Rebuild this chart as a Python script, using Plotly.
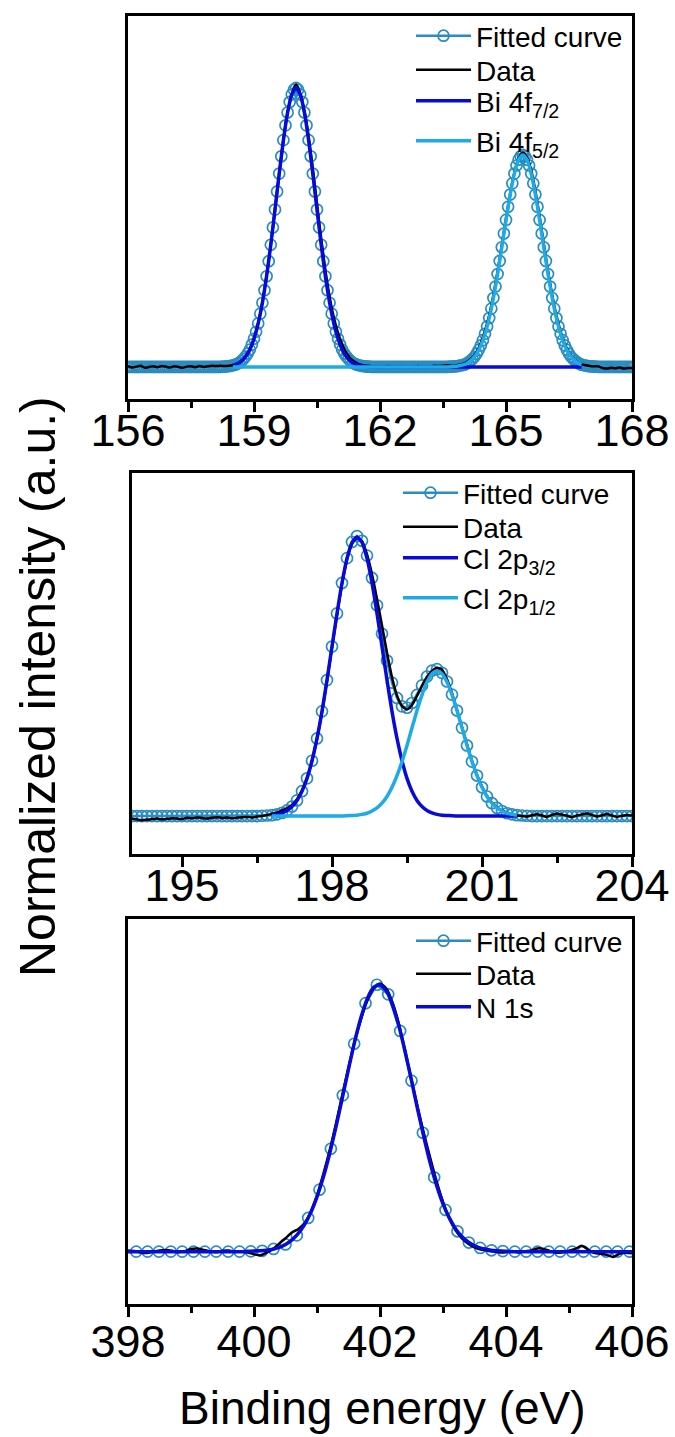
import numpy as np
import plotly.graph_objects as go

# ---------------- Panel 1 : Bi 4f ----------------
bi_fit_x = np.round(np.linspace(156.0, 168.0, 241), 2)
bi_fit = [
    0, 0, 0, 0, 0, 0, 0, 0, 0, 0, 0, 0, 0, 0, 0, 0, 0, 0, 0, 0, 0, 0, 0, 0, 0,
    0, 0, 0, 0, 0, 0, 0, 0, 0, 0, 0, 0, 0, 0, 0, 0, 0, 0, 0, 0,
    0.001, 0.001, 0.002, 0.003, 0.004, 0.006, 0.008, 0.011, 0.015, 0.021, 0.028, 0.037,
    0.048, 0.062, 0.080, 0.101, 0.126, 0.156, 0.191, 0.230, 0.275, 0.325, 0.379, 0.438,
    0.500, 0.564, 0.629, 0.693, 0.755, 0.813, 0.866, 0.912, 0.950, 0.977, 0.994, 1.000,
    0.994, 0.977, 0.950, 0.912, 0.866, 0.813, 0.755, 0.693, 0.629, 0.564, 0.500, 0.438,
    0.379, 0.325, 0.275, 0.230, 0.191, 0.156, 0.126, 0.101, 0.080, 0.062, 0.048, 0.037,
    0.028, 0.021, 0.015, 0.011, 0.008, 0.006, 0.004, 0.003, 0.002, 0.001, 0.001,
    0, 0, 0, 0, 0, 0, 0, 0, 0, 0, 0, 0, 0, 0, 0, 0, 0, 0, 0, 0, 0, 0, 0, 0, 0,
    0, 0, 0, 0, 0, 0, 0, 0, 0, 0, 0, 0,
    0.001, 0.001, 0.002, 0.002, 0.003, 0.005, 0.006, 0.008, 0.011, 0.016, 0.021, 0.028,
    0.036, 0.047, 0.061, 0.077, 0.096, 0.119, 0.145, 0.175, 0.209, 0.247, 0.288, 0.333,
    0.380, 0.429, 0.478, 0.527, 0.574, 0.618, 0.658, 0.693, 0.722, 0.743, 0.755, 0.760,
    0.755, 0.743, 0.722, 0.693, 0.658, 0.618, 0.574, 0.527, 0.478, 0.429, 0.380, 0.333,
    0.288, 0.247, 0.209, 0.175, 0.145, 0.119, 0.096, 0.077, 0.061, 0.047, 0.036, 0.028,
    0.021, 0.016, 0.011, 0.008, 0.006, 0.005, 0.003, 0.002, 0.002, 0.001, 0.001,
    0, 0, 0, 0, 0, 0, 0, 0, 0, 0, 0, 0, 0, 0, 0, 0, 0,
]
bi_data_x = np.round(np.linspace(156.0, 168.0, 121), 2)
bi_data = [
    0.003, -0.002, 0.001, 0.004, -0.003, 0.000, 0.002, -0.001, 0.003, 0.001, -0.002, 0.002,
    0.000, -0.003, 0.001, 0.002, -0.001, 0.003, 0.000, 0.002, 0.004, 0.003, 0.004,
    0.003, 0.004, 0.007, 0.012, 0.022, 0.038, 0.063, 0.102, 0.157, 0.232, 0.327, 0.440,
    0.566, 0.694, 0.814, 0.912, 0.977, 1.012,
    0.980, 0.918, 0.826, 0.712, 0.585, 0.460, 0.347, 0.252, 0.178, 0.122, 0.080, 0.050,
    0.030, 0.018, 0.010, 0.006, 0.004,
    0.002, 0.000, -0.002, 0.001, 0.003, 0.000, -0.001, 0.002, 0.001, -0.002, 0.000, 0.003,
    0.001, -0.001, 0.002, 0.004, 0.003, 0.004, 0.006,
    0.004, 0.006, 0.009, 0.013, 0.021, 0.034, 0.054, 0.086, 0.129, 0.186, 0.258, 0.343,
    0.438, 0.533, 0.622, 0.697, 0.748, 0.768,
    0.752, 0.705, 0.631, 0.540, 0.442, 0.345, 0.258, 0.185, 0.127, 0.083, 0.052, 0.031,
    0.018, 0.010, 0.006, 0.003, 0.002,
    0.002, -0.004, -0.006, -0.003, -0.005, -0.002, -0.006, -0.004, -0.005,
]
bi_comp_x = np.round(np.linspace(158.5, 166.8, 84), 2)
bi_72 = [
    0.006, 0.011, 0.021, 0.037, 0.062, 0.101, 0.156, 0.230, 0.325, 0.438, 0.564, 0.693,
    0.813, 0.912, 0.977, 1.000,
    0.977, 0.912, 0.813, 0.693, 0.564, 0.438, 0.325, 0.230, 0.156, 0.101, 0.062, 0.037,
    0.021, 0.011, 0.006, 0.003, 0.001,
    0, 0, 0, 0, 0, 0, 0, 0, 0, 0, 0, 0, 0, 0, 0, 0, 0, 0, 0, 0, 0, 0, 0, 0, 0,
    0, 0, 0, 0, 0, 0, 0, 0, 0, 0, 0, 0, 0, 0, 0, 0, 0, 0, 0, 0, 0, 0, 0, 0, 0, 0,
]
bi_52 = [
    0, 0, 0, 0, 0, 0, 0, 0, 0, 0, 0, 0, 0, 0, 0, 0, 0, 0, 0, 0, 0, 0, 0, 0, 0,
    0, 0, 0, 0, 0, 0, 0, 0, 0, 0, 0, 0, 0, 0, 0, 0, 0, 0, 0, 0, 0, 0, 0, 0, 0, 0, 0,
    0.001, 0.002, 0.005, 0.008, 0.016, 0.028, 0.047, 0.077, 0.119, 0.175, 0.247, 0.333,
    0.429, 0.527, 0.618, 0.693, 0.743, 0.760,
    0.743, 0.693, 0.618, 0.527, 0.429, 0.333, 0.247, 0.175, 0.119, 0.077, 0.047, 0.028,
    0.016, 0.008,
]

# ---------------- Panel 2 : Cl 2p ----------------
cl_x = np.round(np.linspace(194.0, 204.0, 101), 2)
cl_fit = [
    0, 0, 0, 0, 0, 0, 0, 0, 0, 0, 0, 0, 0, 0, 0, 0, 0, 0, 0, 0, 0, 0, 0, 0, 0, 0,
    0.001, 0.002,
    0.003, 0.006, 0.011, 0.020, 0.034, 0.056, 0.089, 0.135, 0.198, 0.278, 0.375, 0.487,
    0.607, 0.726, 0.835,
    0.924, 0.982, 1.003, 0.986, 0.933, 0.853, 0.755, 0.653, 0.557, 0.478, 0.423, 0.393,
    0.388, 0.405, 0.434, 0.468, 0.500, 0.521, 0.526, 0.513, 0.482, 0.435,
    0.378, 0.316, 0.253, 0.195, 0.145, 0.103, 0.070, 0.046, 0.029, 0.018, 0.010, 0.006,
    0.003, 0.002, 0.001,
    0, 0, 0, 0, 0, 0, 0, 0, 0, 0, 0, 0, 0, 0, 0, 0, 0, 0, 0, 0, 0,
]
cl_data = [
    -0.010, -0.012, -0.015, -0.013, -0.011, -0.009, -0.012, -0.010, -0.008, -0.009, -0.011,
    -0.006, -0.008, -0.005, -0.007, -0.009, -0.006, -0.004, -0.007, -0.005, -0.008, -0.006,
    -0.004, -0.003, -0.005, -0.002,
    0.000, 0.004,
    0.008, 0.012, 0.020, 0.028, 0.040, 0.060, 0.092, 0.136, 0.196, 0.276, 0.372, 0.484,
    0.605, 0.722, 0.830,
    0.918, 0.974, 0.996, 0.984, 0.937, 0.866, 0.778, 0.683, 0.585, 0.497, 0.432, 0.394,
    0.382, 0.398, 0.430, 0.466, 0.497, 0.520, 0.531, 0.524, 0.490, 0.440,
    0.380, 0.318, 0.256, 0.198, 0.147, 0.106, 0.072, 0.048, 0.031, 0.020, 0.012, 0.006,
    0.002, 0.000, -0.002,
    0.003, 0.006, 0.002, -0.003, 0.004, 0.008, 0.005, 0.001, -0.004, 0.002, 0.006, 0.009,
    0.004, -0.002, 0.003, 0.007, 0.002, -0.003, 0.001, 0.004, 0.002,
]
cl_comp_x = np.round(np.linspace(196.8, 201.7, 50), 2)
cl_32 = [
    0.003, 0.006, 0.011, 0.020, 0.034, 0.056, 0.089, 0.135, 0.198, 0.278, 0.375, 0.487,
    0.607, 0.726, 0.835, 0.923, 0.980, 1.000,
    0.980, 0.923, 0.835, 0.726, 0.607, 0.487, 0.375, 0.278, 0.198, 0.135, 0.089, 0.056,
    0.034, 0.020, 0.011, 0.006, 0.003, 0.002, 0.001,
    0, 0, 0, 0, 0, 0, 0, 0, 0, 0, 0, 0, 0,
]
cl_12 = [
    0, 0, 0, 0, 0, 0, 0, 0, 0, 0, 0, 0, 0, 0, 0,
    0.001, 0.002, 0.003, 0.006, 0.010, 0.018, 0.029, 0.046, 0.070, 0.103, 0.145, 0.195,
    0.253, 0.316, 0.378, 0.434, 0.480, 0.510, 0.520,
    0.510, 0.480, 0.434, 0.378, 0.316, 0.253, 0.195, 0.145, 0.103, 0.070, 0.046, 0.029,
    0.018, 0.010, 0.006, 0.003,
]

# ---------------- Panel 3 : N 1s ----------------
n_fit_x = [
    398.13, 398.31, 398.49, 398.68, 398.86, 399.04, 399.22, 399.40, 399.59, 399.77,
    399.95, 400.13, 400.31, 400.50, 400.68, 400.86, 401.04, 401.22, 401.41, 401.59,
    401.77, 401.95, 402.13, 402.32, 402.50, 402.68, 402.86, 403.04, 403.23, 403.41,
    403.59, 403.77, 403.95, 404.14, 404.32, 404.50, 404.68, 404.86, 405.05, 405.23,
    405.41, 405.59, 405.77, 405.96,
]
n_fit = [
    0, 0, 0, 0, 0, 0, 0, 0, 0, 0,
    0.001, 0.003, 0.010, 0.027, 0.061, 0.126, 0.232, 0.385, 0.585, 0.778,
    0.930, 0.999, 0.963, 0.826, 0.640, 0.445, 0.278, 0.156, 0.076, 0.034,
    0.014, 0.005, 0.002, 0, 0, 0, 0, 0, 0, 0,
    0, 0, 0, 0,
]
n_x = np.round(np.linspace(398.0, 406.0, 81), 2)
n_data = [
    0.004, 0.002, -0.003, -0.005, 0.000, 0.004, 0.006, 0.003, -0.002, 0.002,
    0.010, 0.012, 0.006, 0.001, -0.002, 0.003, 0.004, -0.001, 0.000, -0.003,
    -0.010, -0.014, -0.004, 0.010, 0.030, 0.050, 0.072, 0.084, 0.106, 0.148,
    0.210, 0.290, 0.378, 0.478, 0.585, 0.690, 0.790, 0.872, 0.940, 0.985,
    1.004, 0.985, 0.932, 0.852, 0.752, 0.644, 0.538, 0.440, 0.348, 0.262,
    0.186, 0.124, 0.080, 0.050, 0.030, 0.016, 0.008, 0.004, 0.000, -0.003,
    -0.002, 0.002, -0.003, 0.001, 0.004, 0.012, 0.010, 0.002, -0.004, -0.002,
    0.003, 0.010, 0.022, 0.008, -0.004, -0.008, -0.012, -0.020, -0.008, -0.004, -0.006,
]
n_1s = [
    0, 0, 0, 0, 0, 0, 0, 0, 0, 0, 0, 0, 0, 0, 0, 0, 0, 0, 0,
    0.001, 0.002,
    0.003, 0.005, 0.009, 0.016, 0.027, 0.043, 0.067, 0.100, 0.145,
    0.205, 0.278, 0.366, 0.466, 0.573, 0.683, 0.788, 0.878, 0.948, 0.989,
    0.999, 0.976, 0.923, 0.844, 0.747, 0.640, 0.530, 0.425, 0.329, 0.247,
    0.179, 0.126, 0.085, 0.056, 0.036, 0.022, 0.013, 0.008, 0.004, 0.002,
    0.001,
    0, 0, 0, 0, 0, 0, 0, 0, 0, 0, 0, 0, 0, 0, 0, 0, 0, 0, 0, 0,
]

for a, b in [(bi_fit_x, bi_fit), (bi_data_x, bi_data), (bi_comp_x, bi_72), (bi_comp_x, bi_52),
             (cl_x, cl_fit), (cl_x, cl_data), (cl_comp_x, cl_32), (cl_comp_x, cl_12),
             (n_fit_x, n_fit), (n_x, n_data), (n_x, n_1s)]:
    assert len(a) == len(b), (len(a), len(b))

# ---------------- styling ----------------
FIT_C = "#2a8cc0"
DARK_C = "#0a0ad8"
LIGHT_C = "#1eaae6"
FONT = "Arial, 'Liberation Sans', sans-serif"
W, H = 675, 1437


def px_x(p):
    return p / W


def px_y(p):
    return 1 - p / H


fig = go.Figure()
legends = {}
LEG_FONT = 28
ITEMW = 55


def add(x, y, name, color, ax, leg_xy, width=3.5, fit=False):
    xa = "x" if ax == 1 else f"x{ax}"
    ya = "y" if ax == 1 else f"y{ax}"
    n = len(legends) + 1
    lid = "legend" if n == 1 else f"legend{n}"
    legends[lid] = dict(x=px_x(leg_xy[0]), y=px_y(leg_xy[1]), xanchor="left", yanchor="middle",
                        bgcolor="rgba(0,0,0,0)", borderwidth=0, itemwidth=ITEMW,
                        font=dict(family=FONT, size=LEG_FONT, color="black"))
    if fit:
        fig.add_trace(go.Scatter(
            x=x, y=y, name=name, mode="lines+markers", xaxis=xa, yaxis=ya,
            line=dict(color=color, width=2.5),
            marker=dict(symbol="circle-open", size=11, color=color, line=dict(width=1.7, color=color)),
            legend=lid))
    else:
        fig.add_trace(go.Scatter(
            x=x, y=y, name=name, mode="lines", xaxis=xa, yaxis=ya,
            line=dict(color=color, width=width, shape="spline", smoothing=0.6),
            legend=lid))


# panel 1: fitted markers, then data, then the fitted components on top
add(bi_fit_x, bi_fit, "Fitted curve", FIT_C, 1, (411, 36), fit=True)
add(bi_data_x, bi_data, "Data", "black", 1, (411, 70), width=2.5)
add(bi_comp_x, bi_72, "Bi 4f<sub>7/2</sub>", DARK_C, 1, (411, 101))
add(bi_comp_x, bi_52, "Bi 4f<sub>5/2</sub>", LIGHT_C, 1, (411, 141))
# panel 2
add(cl_x, cl_fit, "Fitted curve", FIT_C, 2, (398, 493), fit=True)
add(cl_x, cl_data, "Data", "black", 2, (398, 527), width=2.5)
add(cl_comp_x, cl_32, "Cl 2p<sub>3/2</sub>", DARK_C, 2, (398, 558))
add(cl_comp_x, cl_12, "Cl 2p<sub>1/2</sub>", LIGHT_C, 2, (398, 598))
# panel 3
add(n_fit_x, n_fit, "Fitted curve", FIT_C, 3, (411, 941), fit=True)
add(n_x, n_data, "Data", "black", 3, (411, 974), width=2.5)
add(n_x, n_1s, "N 1s", DARK_C, 3, (411, 1007))


def xaxis(dom_l, rng, dtick, tick0, minor_dtick, anchor, standoff=-20):
    return dict(domain=[px_x(dom_l), px_x(632)], range=rng, dtick=dtick, tick0=tick0,
                showline=True, mirror=True, linecolor="black", linewidth=3,
                ticks="outside", ticklen=10, tickwidth=2.5, tickcolor="black",
                minor=dict(ticks="outside", ticklen=6, tickwidth=2.5, tickcolor="black",
                           dtick=minor_dtick, tick0=tick0),
                showgrid=False, zeroline=False, anchor=anchor, automargin=False,
                ticklabelstandoff=standoff,
                tickfont=dict(family=FONT, size=45, color="black"))


def yaxis(top, bot, rng, anchor):
    return dict(domain=[px_y(bot), px_y(top)], range=rng, showline=True, mirror=True,
                linecolor="black", linewidth=3, ticks="", showticklabels=False,
                showgrid=False, zeroline=False, anchor=anchor, automargin=False)


fig.update_layout(
    width=W, height=H, margin=dict(l=0, r=0, t=0, b=0, pad=0, autoexpand=False),
    paper_bgcolor="white", plot_bgcolor="white",
    xaxis=xaxis(128, [156, 168], 3, 156, 1.5, "y"),
    yaxis=yaxis(16, 399, [-0.115, 1.258], "x"),
    xaxis2=xaxis(132, [194, 204], 3, 195, 1.5, "y2"),
    yaxis2=yaxis(473, 854, [-0.136, 1.229], "x2"),
    xaxis3=xaxis(128, [398, 406], 2, 398, 1, "y3", standoff=-14),
    yaxis3=yaxis(919, 1304, [-0.196, 1.245], "x3"),
    showlegend=True,
    **legends,
)

fig.add_annotation(text="Normalized intensity (a.u.)", xref="paper", yref="paper",
                   x=px_x(38), y=px_y(687), textangle=-90, showarrow=False,
                   xanchor="center", yanchor="middle",
                   font=dict(family=FONT, size=50, color="black"))
fig.add_annotation(text="Binding energy (eV)", xref="paper", yref="paper",
                   x=px_x(383), y=px_y(1408), showarrow=False,
                   xanchor="center", yanchor="middle",
                   font=dict(family=FONT, size=46, color="black"))

fig.write_html("out.html", config={"displayModeBar": False},
               post_script="document.body.style.margin='0';document.body.style.overflow='hidden';")
